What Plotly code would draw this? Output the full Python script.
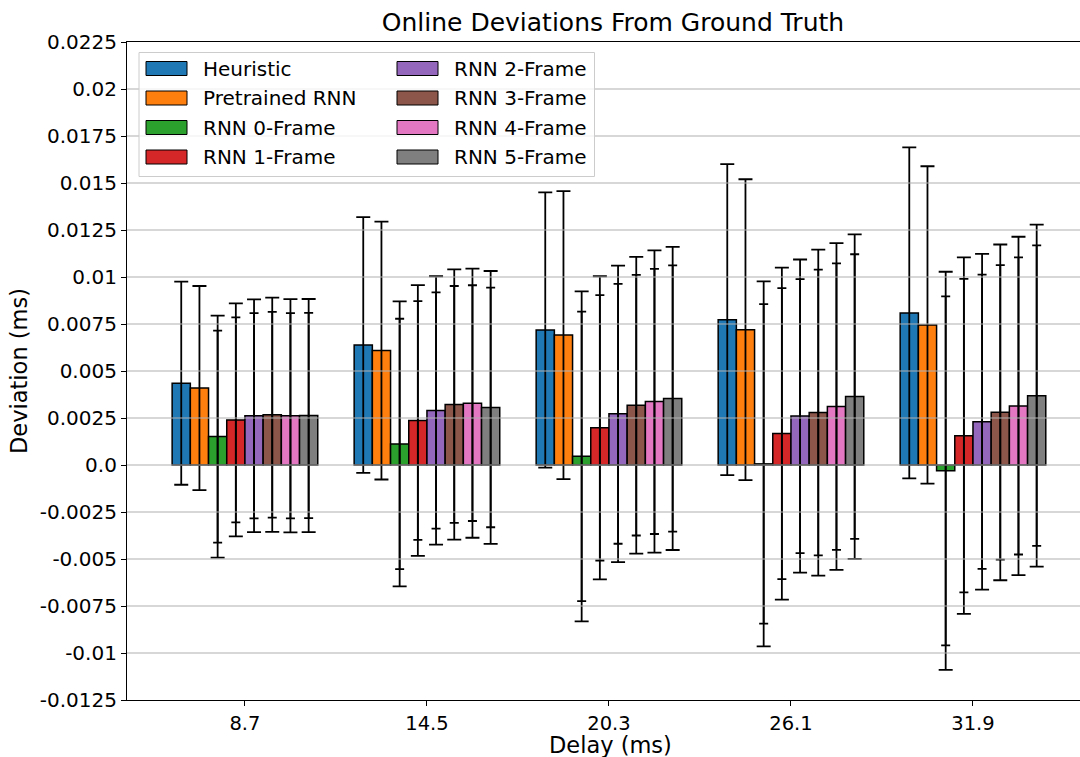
import plotly.graph_objects as go

# Delay settings (x categories)
delays = ["8.7", "14.5", "20.3", "26.1", "31.9"]

series_names = [
    "Heuristic", "Pretrained RNN", "RNN 0-Frame", "RNN 1-Frame",
    "RNN 2-Frame", "RNN 3-Frame", "RNN 4-Frame", "RNN 5-Frame",
]
series_colors = [
    "#1f77b4", "#ff7f0e", "#2ca02c", "#d62728",
    "#9467bd", "#8c564b", "#e377c2", "#7f7f7f",
]

# Mean deviation per delay
heuristic_mean = [0.00435, 0.00638, 0.00718, 0.00773, 0.00809]
pretrained_mean = [0.00409, 0.00609, 0.00691, 0.00720, 0.00745]
rnn0_mean = [0.00151, 0.00112, 0.00046, 0.00006, -0.00031]
rnn1_mean = [0.00240, 0.00237, 0.00198, 0.00167, 0.00156]
rnn2_mean = [0.00262, 0.00290, 0.00272, 0.00260, 0.00230]
rnn3_mean = [0.00267, 0.00322, 0.00318, 0.00279, 0.00280]
rnn4_mean = [0.00262, 0.00329, 0.00338, 0.00311, 0.00314]
rnn5_mean = [0.00263, 0.00306, 0.00354, 0.00364, 0.00369]

# Outer error bar half-lengths
heuristic_err = [0.00540, 0.00680, 0.00732, 0.00827, 0.00880]
pretrained_err = [0.00543, 0.00686, 0.00766, 0.00800, 0.00844]
rnn0_err = [0.00644, 0.00758, 0.00878, 0.00971, 0.01059]
rnn1_err = [0.00620, 0.00720, 0.00806, 0.00883, 0.00948]
rnn2_err = [0.00619, 0.00714, 0.00789, 0.00833, 0.00893]
rnn3_err = [0.00623, 0.00719, 0.00789, 0.00867, 0.00893]
rnn4_err = [0.00620, 0.00716, 0.00804, 0.00869, 0.00900]
rnn5_err = [0.00620, 0.00726, 0.00806, 0.00863, 0.00910]

# Inner error bar half-lengths (RNN models only)
rnn0_err_inner = [0.00564, 0.00666, 0.00770, 0.00850, 0.00928]
rnn1_err_inner = [0.00545, 0.00635, 0.00706, 0.00774, 0.00834]
rnn2_err_inner = [0.00546, 0.00628, 0.00691, 0.00729, 0.00783]
rnn3_err_inner = [0.00547, 0.00630, 0.00693, 0.00760, 0.00783]
rnn4_err_inner = [0.00546, 0.00627, 0.00705, 0.00762, 0.00790]
rnn5_err_inner = [0.00546, 0.00637, 0.00708, 0.00757, 0.00799]

y_tick_vals = [0.0225, 0.02, 0.0175, 0.015, 0.0125, 0.01, 0.0075, 0.005,
               0.0025, 0.0, -0.0025, -0.005, -0.0075, -0.01, -0.0125]
y_tick_text = ["0.0225", "0.02", "0.0175", "0.015", "0.0125", "0.01", "0.0075",
               "0.005", "0.0025", "0.0", "-0.0025", "-0.005", "-0.0075",
               "-0.01", "-0.0125"]

means = [heuristic_mean, pretrained_mean, rnn0_mean, rnn1_mean,
         rnn2_mean, rnn3_mean, rnn4_mean, rnn5_mean]
errs = [heuristic_err, pretrained_err, rnn0_err, rnn1_err,
        rnn2_err, rnn3_err, rnn4_err, rnn5_err]
inner_errs = [None, None, rnn0_err_inner, rnn1_err_inner,
              rnn2_err_inner, rnn3_err_inner, rnn4_err_inner, rnn5_err_inner]

FONT = "DejaVu Sans"
W, H = 1080, 757
ML, MR, MT, MB = 127, 0, 42, 57
PW, PH = W - ML - MR, H - MT - MB


def px_x(px):
    return (px - ML) / PW


def px_y(py):
    return (H - MB - py) / PH


fig = go.Figure()

for k, name in enumerate(series_names):
    fig.add_trace(go.Bar(
        x=delays, y=means[k], name=name, offsetgroup=str(k),
        marker=dict(color=series_colors[k], line=dict(color="black", width=1.5)),
        error_y=dict(type="data", array=errs[k], visible=True,
                     color="black", thickness=1.8, width=7),
        showlegend=False,
    ))
    if inner_errs[k] is not None:
        fig.add_trace(go.Bar(
            x=delays, y=means[k], name=name, offsetgroup=str(k),
            marker=dict(color="rgba(0,0,0,0)", line=dict(width=0)),
            error_y=dict(type="data", array=inner_errs[k], visible=True,
                         color="black", thickness=1.8, width=4.5),
            showlegend=False, hoverinfo="skip",
        ))

shapes = []
# horizontal grid drawn over the bars
for v in y_tick_vals[1:-1]:
    shapes.append(dict(type="line", xref="paper", x0=0, x1=1, yref="y",
                       y0=v, y1=v, layer="above",
                       line=dict(color="#b0b0b0", width=1.1)))

# legend frame
shapes.append(dict(type="rect", xref="paper", yref="paper",
                   x0=px_x(139), x1=px_x(594.5), y0=px_y(52.5), y1=px_y(176.5),
                   fillcolor="rgba(255,255,255,0.8)",
                   line=dict(color="#cccccc", width=1), layer="above"))

annotations = []
row_centers = [68.5, 98, 127.5, 157]
col_patch_x = [146, 397]
col_text_x = [201, 452]
for k, name in enumerate(series_names):
    col, row = divmod(k, 4)
    cy = row_centers[row]
    shapes.append(dict(type="rect", xref="paper", yref="paper",
                       x0=px_x(col_patch_x[col]), x1=px_x(col_patch_x[col] + 41),
                       y0=px_y(cy + 7), y1=px_y(cy - 7),
                       fillcolor=series_colors[k],
                       line=dict(color="black", width=1), layer="above"))
    annotations.append(dict(text=name, xref="paper", yref="paper",
                            x=px_x(col_text_x[col]), y=px_y(cy),
                            xanchor="left", yanchor="middle", showarrow=False,
                            font=dict(family=FONT, size=20, color="black")))

# x-axis label, centred on the full axes span
annotations.append(dict(text="Delay (ms)", xref="paper", yref="paper",
                        x=px_x(610), y=px_y(745), xanchor="center",
                        yanchor="middle", showarrow=False, borderpad=0,
                        font=dict(family=FONT, size=22.5, color="black")))

fig.update_layout(
    width=W, height=H,
    margin=dict(l=ML, r=MR, t=MT, b=MB, autoexpand=False),
    paper_bgcolor="white", plot_bgcolor="white",
    barmode="group", bargap=0.2, bargroupgap=0,
    font=dict(family=FONT, size=20, color="black"),
    title=dict(text="Online Deviations From Ground Truth",
               font=dict(family=FONT, size=25, color="black"),
               xref="container", x=613 / W, xanchor="center",
               yref="container", y=1 - 22 / H, yanchor="middle"),
    shapes=shapes, annotations=annotations,
    showlegend=False,
)

fig.update_xaxes(
    type="category", range=[-0.648, 4.588],
    showline=True, linecolor="black", linewidth=1.2, mirror=True,
    ticks="outside", ticklen=5, tickcolor="black", tickwidth=1.2,
    showgrid=False, zeroline=False,
    tickfont=dict(family=FONT, size=19.5, color="black"),
    automargin=False,
)
fig.update_yaxes(
    range=[-0.0125, 0.0225],
    tickmode="array", tickvals=y_tick_vals, ticktext=y_tick_text,
    showline=True, linecolor="black", linewidth=1.2, mirror=False,
    ticks="outside", ticklen=5, tickcolor="black", tickwidth=1.2,
    showgrid=False, zeroline=False,
    tickfont=dict(family=FONT, size=20, color="black"),
    title=dict(text="Deviation (ms)", font=dict(family=FONT, size=22.5, color="black"),
               standoff=5),
    automargin=False,
)

fig.write_html("out.html")
